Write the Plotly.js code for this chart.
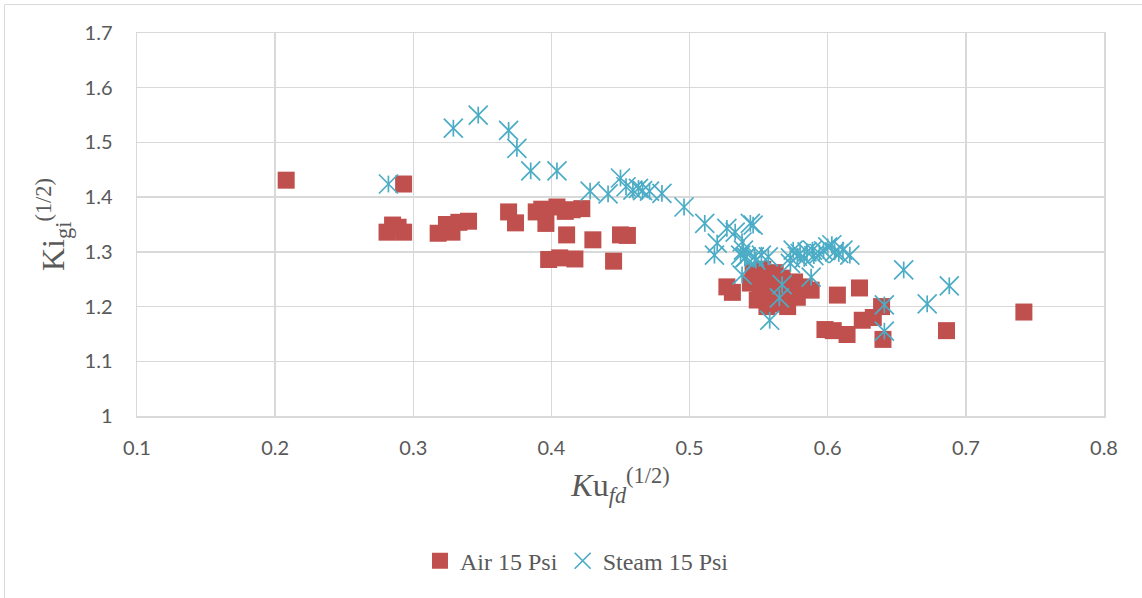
<!DOCTYPE html>
<html>
<head>
<meta charset="utf-8">
<script src="https://cdn.plot.ly/plotly-3.0.1.min.js"></script>
<style>html,body{margin:0;padding:0;background:#fff;} #chart{width:1142px;height:598px;}</style>
</head>
<body>
<div id="chart"></div>
<script>
// ---- data ----
const airX = [0.208,0.293,0.281,0.285,0.289,0.293,0.318,0.324,0.328,0.333,0.340,
  0.369,0.374,0.389,0.393,0.396,0.404,0.410,0.415,0.422,0.411,0.398,0.406,0.417,0.430,0.445,0.450,0.455,
  0.527,0.531,0.544,0.546,0.548,0.549,0.551,0.553,0.555,0.556,0.558,0.560,0.562,0.563,0.565,0.567,0.569,0.571,0.572,0.574,0.576,0.578,0.580,0.583,0.588,
  0.607,0.623,0.598,0.604,0.614,0.625,0.633,0.639,0.640,0.686,0.742];
const airY = [1.431,1.424,1.336,1.349,1.345,1.336,1.334,1.350,1.336,1.354,1.356,
  1.373,1.353,1.373,1.378,1.352,1.382,1.374,1.377,1.379,1.331,1.286,1.289,1.287,1.322,1.283,1.331,1.330,
  1.236,1.226,1.243,1.262,1.255,1.212,1.225,1.268,1.235,1.200,1.248,1.215,1.262,1.205,1.230,1.252,1.210,1.200,1.240,1.225,1.245,1.217,1.232,1.236,1.230,
  1.221,1.234,1.158,1.156,1.149,1.175,1.180,1.200,1.140,1.156,1.190];

const steamX = [0.282,0.329,0.347,0.369,0.375,0.385,0.404,0.428,0.441,0.450,0.454,0.459,0.463,0.466,0.471,0.480,
  0.496,0.511,0.520,0.518,0.527,0.533,0.544,0.546,0.538,0.539,0.541,0.538,0.537,0.540,0.547,0.552,0.557,0.548,
  0.567,0.565,0.558,0.573,0.575,0.578,0.580,0.583,0.585,0.589,0.590,0.594,0.597,0.600,0.603,0.605,0.608,0.611,0.616,
  0.573,0.588,0.655,0.641,0.641,0.672,0.688];
const steamY = [1.424,1.526,1.550,1.522,1.489,1.448,1.448,1.411,1.406,1.435,1.419,1.413,1.416,1.412,1.411,1.407,
  1.382,1.352,1.316,1.294,1.343,1.336,1.352,1.349,1.318,1.303,1.291,1.258,1.294,1.289,1.291,1.294,1.291,1.285,
  1.240,1.216,1.175,1.289,1.303,1.292,1.297,1.288,1.300,1.303,1.293,1.297,1.302,1.309,1.313,1.300,1.297,1.303,1.294,
  1.279,1.254,1.267,1.203,1.155,1.205,1.238];

const xTicks = [0.1,0.2,0.3,0.4,0.5,0.6,0.7,0.8];
const xTickText = ['0.1','0.2','0.3','0.4','0.5','0.6','0.7','0.8'];
const yTicks = [1,1.1,1.2,1.3,1.4,1.5,1.6,1.7];
const yTickText = ['1','1.1','1.2','1.3','1.4','1.5','1.6','1.7'];

const RED = '#C0504D', BLUE = '#4BACC6', GRID = '#D9D9D9', TXT = '#595959';

const traces = [
  {x: airX, y: airY, type: 'scatter', mode: 'markers', name: 'Air 15 Psi',
   marker: {symbol: 'square', size: 17, color: RED, line: {width: 0}}},
  {x: steamX, y: steamY, type: 'scatter', mode: 'markers', name: 'Steam 15 Psi', legendgroup: 's',
   marker: {symbol: 'x-thin-open', size: 19, color: BLUE, line: {width: 1.7, color: BLUE}}},
  // vertical stroke of the Excel-style star marker
  {x: steamX, y: steamY, type: 'scatter', mode: 'markers', name: 'Steam 15 Psi', legendgroup: 's', showlegend: false,
   marker: {symbol: 'line-ns-open', size: 12, color: BLUE, line: {width: 1.7, color: BLUE}}}
];

const layout = {
  width: 1142, height: 598,
  margin: {l: 137, r: 38, t: 33, b: 182},
  paper_bgcolor: '#fff', plot_bgcolor: '#fff',
  showlegend: true,
  hovermode: false,
  xaxis: {
    range: [0.1, 0.8], tickvals: xTicks, ticktext: xTickText,
    showgrid: true, gridcolor: GRID, gridwidth: 1.5,
    showline: true, linecolor: GRID, linewidth: 1.5, mirror: true,
    zeroline: false, ticks: '', ticklabelstandoff: 13,
    tickfont: {family: 'Lato, sans-serif', size: 20, color: TXT},
    title: {text: '<i>K</i>u<sub><i>fd</i></sub><sup>(1/2)</sup>', standoff: 16,
            font: {family: 'Liberation Serif, serif', size: 32, color: TXT}}
  },
  yaxis: {
    range: [1, 1.7], tickvals: yTicks, ticktext: yTickText,
    showgrid: true, gridcolor: GRID, gridwidth: 1.5,
    showline: true, linecolor: GRID, linewidth: 1.5, mirror: true,
    zeroline: false, ticks: '', ticklabelstandoff: 19,
    tickfont: {family: 'Lato, sans-serif', size: 20, color: TXT},
    title: {text: 'Ki<sub>gi</sub><sup>(1/2)</sup>', standoff: 10,
            font: {family: 'Liberation Serif, serif', size: 32, color: TXT}}
  },
  legend: {orientation: 'h', x: 0.455, xanchor: 'center', y: -0.379, yanchor: 'middle',
           font: {family: 'Liberation Serif, serif', size: 24, color: TXT},
           itemwidth: 30, tracegroupgap: 0},
  shapes: [{type: 'rect', xref: 'paper', yref: 'paper', x0: -0.137, x1: 1.06, y0: -0.48, y1: 1.0744,
            line: {color: GRID, width: 1}, fillcolor: 'rgba(0,0,0,0)', layer: 'below'}]
};

Plotly.newPlot('chart', traces, layout, {displayModeBar: false, staticPlot: true});
</script>
</body>
</html>
